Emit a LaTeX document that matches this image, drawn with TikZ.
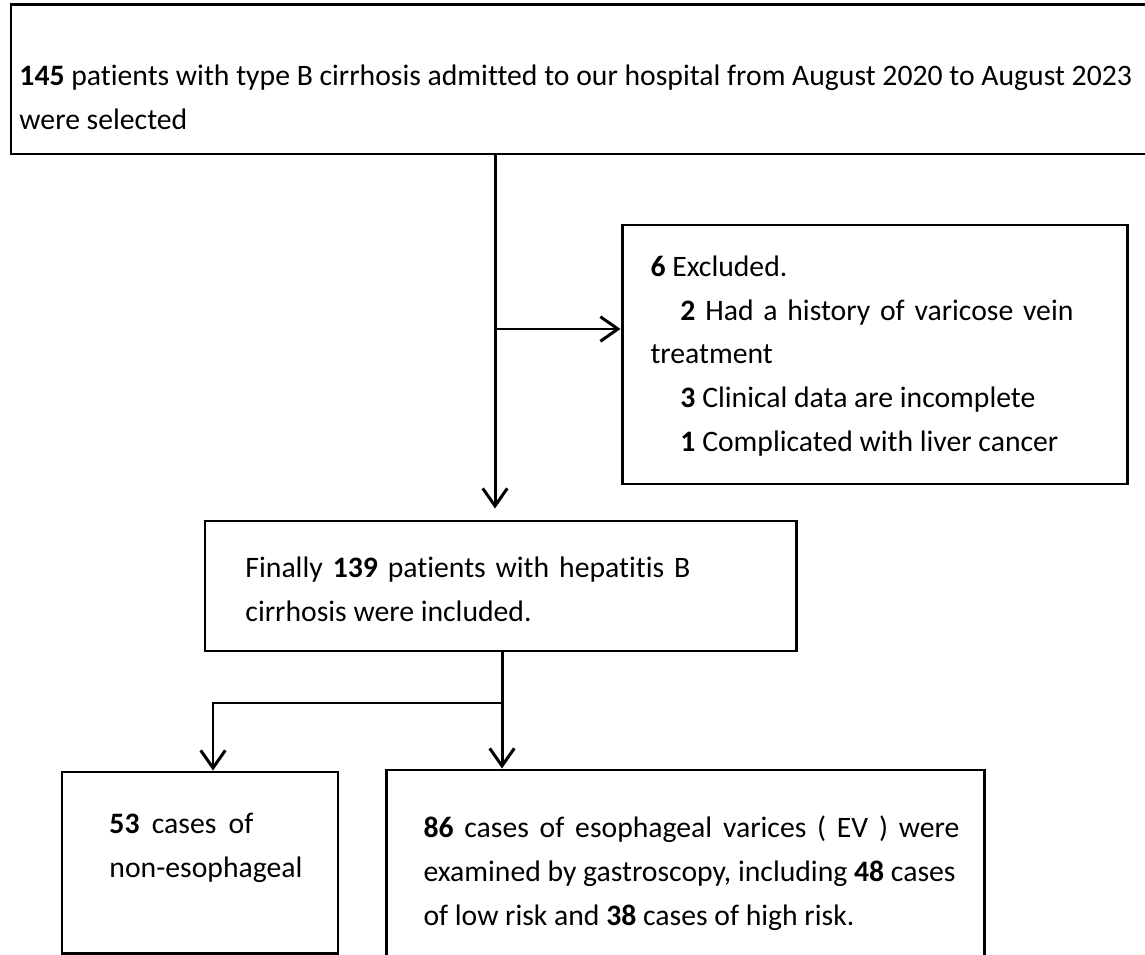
\documentclass[tikz,border=0pt]{standalone}
\usepackage{fontspec}
\setmainfont[Ligatures=NoCommon]{Carlito}
\usetikzlibrary{arrows.meta,fit}

\begin{document}
\begin{tikzpicture}[x=0.02cm, y=-0.02cm, line width=1.7pt, >={Straight Barb[length=10pt,width=14pt]},
  box/.style={draw, inner sep=0pt},
  txt/.style={anchor=north west, inner sep=0pt, align=left, font=\fontsize{16.9}{25}\selectfont}]

\clip (0,0) rectangle (1145,955);

% boxes of the flow chart
\node[box, fit={(11,5) (1160,154)}] (sel) {};
\node[box, fit={(622,225) (1127,484)}] (excl) {};
\node[box, fit={(205,521) (796,651)}] (incl) {};
\node[box, fit={(62,772) (338,953)}] (nonev) {};
\node[box, fit={(386,770) (984,975)}] (ev) {};

% texts inside the boxes
\node[txt] (selt) at (18,63) {\textbf{145} patients with type B cirrhosis admitted to our hospital from August 2020 to August 2023\\were selected};
\node[txt] (exclt) at (649,254) {\textbf{6} Excluded.\\
  \hspace*{0.6cm}\makebox[7.86cm][s]{\textbf{2}\  Had a history of varicose vein}\\
  treatment\\
  \hspace*{0.6cm}\textbf{3} Clinical data are incomplete\\
  \hspace*{0.6cm}\textbf{1} Complicated with liver cancer};
\node[txt] (inclt) at (244,555) {\makebox[8.9cm][s]{Finally \textbf{139} patients with hepatitis B}\\cirrhosis were included.};
\node[txt] (nonevt) at (108,812) {\makebox[2.88cm][s]{\textbf{53} cases of}\\non-esophageal};
\node[txt] (evt) at (422,814) {\makebox[10.72cm][s]{\textbf{86} cases of esophageal varices ( EV ) were}\\
  examined by gastroscopy, including \textbf{48} cases\\
  of low risk and \textbf{38} cases of high risk.};

% connectors
\coordinate (split) at (495,329);
\coordinate (fork) at (502,703);
\coordinate (bend) at (213,703);
\draw[->, shorten >=0.22cm] (sel.south -| split) -- (incl.north -| split);
\draw[->] (split) -- (excl.west |- split);
\draw[->] (incl.south -| fork) -- (ev.north -| fork);
\draw[->] (fork) -- (bend) -- (nonev.north -| bend);

\end{tikzpicture}
\end{document}
